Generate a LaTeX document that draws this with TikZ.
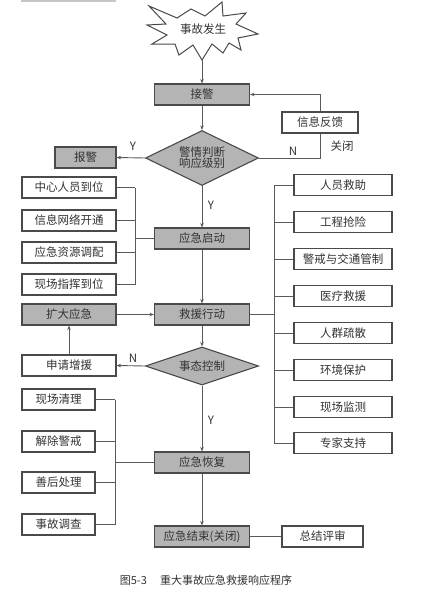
\documentclass[tikz,border=0pt]{standalone}
\usepackage{fontspec}
\setmainfont{Noto Sans CJK SC}
\usetikzlibrary{shapes.geometric,arrows.meta}
\definecolor{ln}{HTML}{5A5A5A}
\definecolor{bd}{HTML}{4A4A4A}
\definecolor{gf}{HTML}{B4B4B4}
\definecolor{tx}{HTML}{333333}
\tikzset{
  box/.style={draw=bd, line width=1.1pt, fill=white, minimum height=21pt, inner sep=0pt, text=tx, font=\fontsize{11.5}{13}\selectfont},
  gbox/.style={box, fill=gf},
  dia/.style={draw=bd, line width=1.1pt, fill=gf, diamond, inner sep=0pt, text=tx, font=\fontsize{11.5}{13}\selectfont, align=center},
  ln/.style={draw=ln, line width=0.9pt},
  arr/.style={ln, -{Stealth[length=4.5pt,width=3.5pt]}},
  lab/.style={text=tx, font=\fontsize{11.5}{13}\selectfont, inner sep=0pt},
}
\begin{document}
\begin{tikzpicture}[x=1pt,y=-1pt]
\useasboundingbox (0,0) rectangle (421,589);
\draw[draw=black!22, line width=1.5pt] (21,0.75) -- (116,0.75);
% starburst
\draw[draw=bd, line width=1pt, fill=white]
 (149,6) -- (177,18) -- (191,9) -- (205,16) -- (222,2) -- (223,16) -- (246,13) -- (236,24)
 -- (258,34) -- (238,38) -- (241,50) -- (229,43) -- (223,53) -- (212,44) -- (202,60)
 -- (193,45) -- (179,55) -- (175,44) -- (152,44) -- (167,35) -- (147,25) -- (166,24) -- cycle;
\node[lab] (star) at (203,29) {事故发生};
\coordinate (starb) at (202,60);
% main column
\node[gbox, minimum width=95pt] (jj) at (202,94.5) {接警};
\node[box, minimum width=76pt] (fb) at (320,122.5) {信息反馈};
\node[gbox, minimum width=61pt] (bj) at (85.5,157.5) {报警};
\node[dia, minimum width=113pt, minimum height=55pt, aspect=2.1] (d1) at (202,158) {警情判断\\[-2pt]响应级别};
\node[gbox, minimum width=95pt] (qd) at (202,238.5) {应急启动};
\node[gbox, minimum width=95pt] (jy) at (202,314.5) {救援行动};
\node[dia, minimum width=113pt, minimum height=38pt, aspect=3] (d2) at (202,366) {事态控制};
\node[gbox, minimum width=95pt] (hf) at (202,462.5) {应急恢复};
\node[gbox, minimum width=95pt] (js) at (202,536.5) {应急结束(关闭)};
\node[box, minimum width=81pt] (zj) at (322.5,536.5) {总结评审};
% left group 1
\node[box, minimum width=94pt] (l1) at (69,187.5) {中心人员到位};
\node[box, minimum width=94pt] (l2) at (69,220.5) {信息网络开通};
\node[box, minimum width=94pt] (l3) at (69,252.5) {应急资源调配};
\node[box, minimum width=94pt] (l4) at (69,284.5) {现场指挥到位};
\node[gbox, minimum width=94pt] (kd) at (69,314.5) {扩大应急};
\node[box, minimum width=94pt] (sq) at (69,365.5) {申请增援};
% left group 2
\node[box, minimum width=73pt] (m1) at (58.5,399.5) {现场清理};
\node[box, minimum width=73pt] (m2) at (58.5,441.5) {解除警戒};
\node[box, minimum width=73pt] (m3) at (58.5,482.5) {善后处理};
\node[box, minimum width=73pt] (m4) at (58.5,524.5) {事故调查};
% right group
\node[box, minimum width=98pt] (r1) at (343,185) {人员救助};
\node[box, minimum width=98pt] (r2) at (343,222) {工程抢险};
\node[box, minimum width=98pt] (r3) at (343,259) {警戒与交通管制};
\node[box, minimum width=98pt] (r4) at (343,296) {医疗救援};
\node[box, minimum width=98pt] (r5) at (343,333) {人群疏散};
\node[box, minimum width=98pt] (r6) at (343,370) {环境保护};
\node[box, minimum width=98pt] (r7) at (343,407) {现场监测};
\node[box, minimum width=98pt] (r8) at (343,443) {专家支持};
% connectors
\draw[arr] (starb) -- (jj.north);
\draw[arr] (fb.north) |- (jj.east);
\draw[arr] (jj.south) -- (d1.north);
\draw[ln] (d1.east) -| (fb.south);
\draw[arr] (d1.west) -- (bj.east);
\draw[arr] (d1.south) -- (qd.north);
\coordinate (bxa) at (135,238.5);
\foreach \n in {l1,l2,l3,l4} \draw[ln] (\n.east) -- (bxa |- \n.east);
\draw[ln] (bxa |- l1.east) -- (bxa |- l4.east);
\draw[ln] (bxa) -- (qd.west);
\draw[arr] (qd.south) -- (jy.north);
\coordinate (bxr) at (274,314.5);
\draw[ln] (jy.east) -- (bxr);
\draw[ln] (bxr |- r1.west) -- (bxr |- r8.west);
\foreach \n in {r1,r2,r3,r4,r5,r6,r7,r8} \draw[ln] (bxr |- \n.west) -- (\n.west);
\draw[arr] (kd.east) -- (jy.west);
\draw[arr] (jy.south) -- (d2.north);
\draw[arr] (d2.west) -- (sq.east);
\draw[arr] (sq.north) -- (kd.south);
\draw[arr] (d2.south) -- (hf.north);
\coordinate (bxb) at (115,462.5);
\foreach \n in {m1,m2,m3,m4} \draw[ln] (\n.east) -- (bxb |- \n.east);
\draw[ln] (bxb |- m1.east) -- (bxb |- m4.east);
\draw[ln] (bxb) -- (hf.west);
\draw[arr] (hf.south) -- (js.north);
\draw[ln] (js.east) -- (zj.west);
% labels
\node[lab] (y1) at (133,146) {Y};
\node[lab] (n1) at (293,151) {N};
\node[lab] (gb) at (342,146) {关闭};
\node[lab] (y2) at (211,205) {Y};
\node[lab] (n2) at (133,358) {N};
\node[lab] (y3) at (211,420) {Y};
\node[text=tx, font=\fontsize{11}{13}\selectfont, inner sep=0pt] (cap) at (206,580) {图5-3\hspace{1.2em}重大事故应急救援响应程序};
\end{tikzpicture}
\end{document}
